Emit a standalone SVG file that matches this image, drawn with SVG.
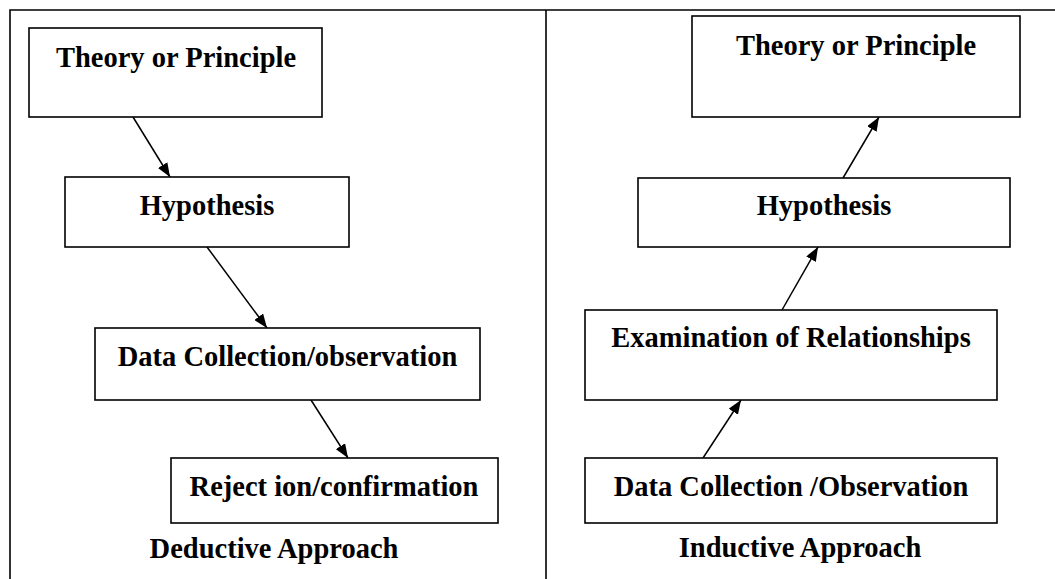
<svg xmlns="http://www.w3.org/2000/svg" width="1055" height="579" viewBox="0 0 1055 579">
<style>
.box{fill:#fff;stroke:#000;stroke-width:1.6}
.t{font-family:"Liberation Serif","Times New Roman",serif;font-weight:bold;font-size:28.5px;fill:#000;text-anchor:middle}
.frame{stroke:#000;stroke-width:1.6;fill:none}
.c{stroke:#000;stroke-width:1.5;fill:none;marker-end:url(#ah)}
</style>
<defs>
<marker id="ah" viewBox="0 0 14 11" refX="14" refY="5.5" markerWidth="14" markerHeight="11" markerUnits="userSpaceOnUse" orient="auto">
<path d="M0,0 L14,5.5 L0,11 Z" fill="#000"/>
</marker>
</defs>
<rect width="1055" height="579" fill="#fff"/>
<g id="frame">
<path class="frame" d="M10,579 V10 H1055"/>
<path class="frame" d="M546,10 V579"/>
</g>
<g id="connectors">
<line class="c" x1="133" y1="117" x2="170" y2="177"/>
<line class="c" x1="207" y1="247" x2="267" y2="328"/>
<line class="c" x1="311" y1="400" x2="348" y2="458"/>
<line class="c" x1="843" y1="178" x2="879" y2="117"/>
<line class="c" x1="782" y1="310" x2="818" y2="247"/>
<line class="c" x1="703" y1="458" x2="741" y2="400"/>
</g>
<g id="d-theory">
<rect class="box" x="29" y="28" width="293" height="89"/>
<text class="t" x="176" y="67">Theory or Principle</text>
</g>
<g id="d-hypothesis">
<rect class="box" x="65" y="177" width="284" height="70"/>
<text class="t" x="207" y="215">Hypothesis</text>
</g>
<g id="d-data">
<rect class="box" x="95" y="328" width="385" height="72"/>
<text class="t" x="287.5" y="366">Data Collection/observation</text>
</g>
<g id="d-reject">
<rect class="box" x="171" y="458" width="327" height="65"/>
<text class="t" x="334" y="496">Reject ion/confirmation</text>
</g>
<g id="d-label">
<text class="t" x="274" y="558">Deductive Approach</text>
</g>
<g id="i-theory">
<rect class="box" x="692" y="16" width="328" height="101"/>
<text class="t" x="856" y="55">Theory or Principle</text>
</g>
<g id="i-hypothesis">
<rect class="box" x="638" y="178" width="372" height="69"/>
<text class="t" x="824" y="215">Hypothesis</text>
</g>
<g id="i-exam">
<rect class="box" x="585" y="310" width="412" height="90"/>
<text class="t" x="791" y="347">Examination of Relationships</text>
</g>
<g id="i-data">
<rect class="box" x="585" y="458" width="412" height="65"/>
<text class="t" x="791" y="496">Data Collection /Observation</text>
</g>
<g id="i-label">
<text class="t" x="800" y="557">Inductive Approach</text>
</g>
</svg>
